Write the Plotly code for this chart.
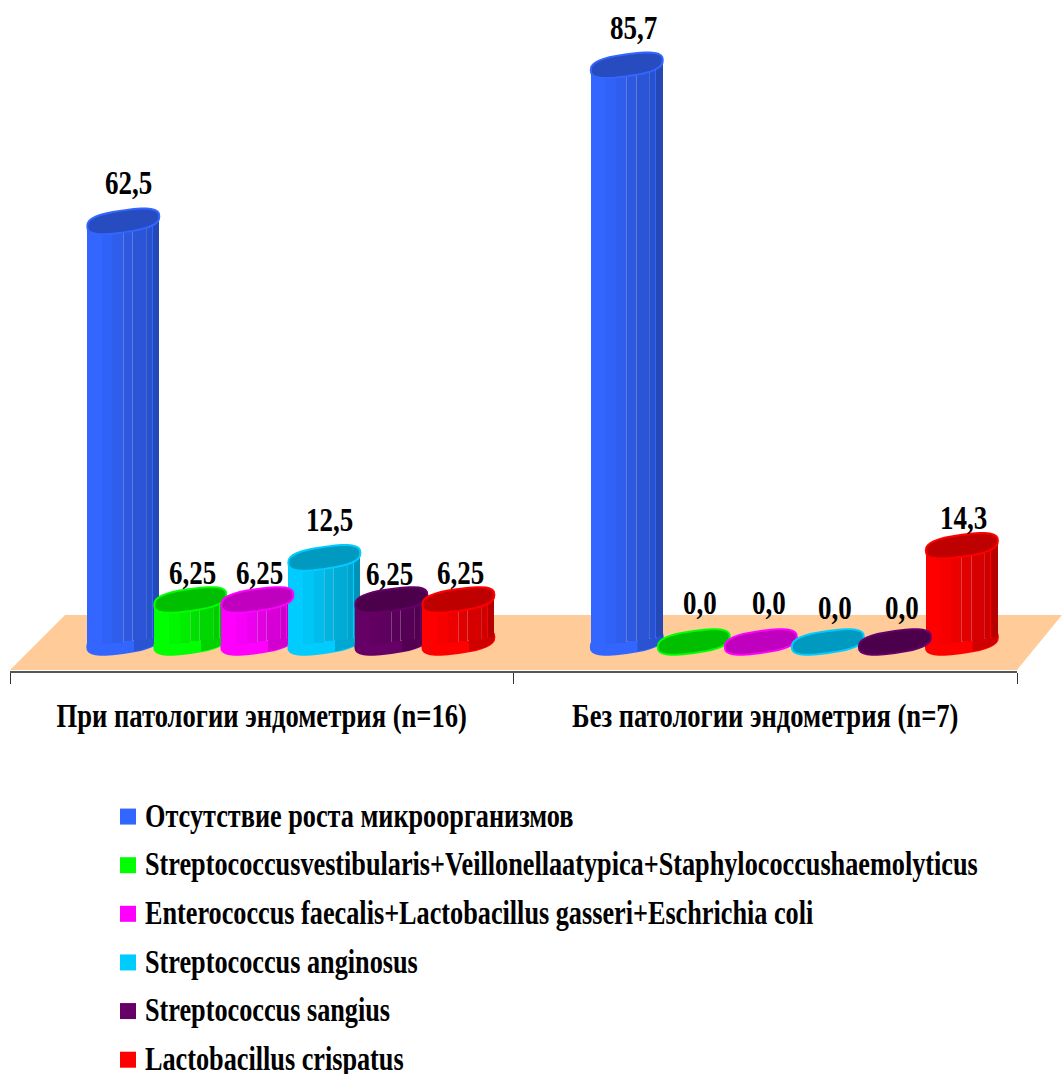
import math
import plotly.graph_objects as go

categories = ["При патологии эндометрия (n=16)", "Без патологии эндометрия (n=7)"]
series_names = [
    "Отсутствие роста микроорганизмов",
    "Streptococcusvestibularis+Veillonellaatypica+Staphylococcushaemolyticus",
    "Enterococcus faecalis+Lactobacillus gasseri+Eschrichia coli",
    "Streptococcus anginosus",
    "Streptococcus sangius",
    "Lactobacillus crispatus",
]
colors = ["#3366FF", "#00FF00", "#FF00FF", "#00CCFF", "#660066", "#FF0000"]
pathology = [62.5, 6.25, 6.25, 12.5, 6.25, 6.25]
no_pathology = [85.7, 0.0, 0.0, 0.0, 0.0, 14.3]
pathology_labels = ["62,5", "6,25", "6,25", "12,5", "6,25", "6,25"]
no_pathology_labels = ["85,7", "0,0", "0,0", "0,0", "0,0", "14,3"]

# label placement relative to the top of each column (layout only, in pixels)
label_dx = [[5, 2, 2, 5, -2, 2], [7, 6, 8, 7, 7, 2]]
label_dy = [[36, 25, 25, 36, 24, 25], [35, 37, 37, 32, 32, 26]]

W, H = 1062, 1074
ML, MR, MB = 10, 45, 403
PX_X = (W - ML - MR) / 2.0
PX_Y = 6.73
Y_BOTTOM = -29 / PX_Y
Y_TOP = 642 / PX_Y
PLOT_H = H - MB

FIRST = -0.275
STEP = 0.1331
HALF_W = 36 / PX_X
RY = 11 / PX_Y
TILT = 5 / PX_Y

# facets of a column: (left edge, right edge, brightness); the thin light
# facets stand in for the pale vertical ridges of the 3-D cylinder
FACETS = [(0, .07, 1), (.07, .2, 1), (.2, .35, .97), (.35, .5, .93),
          (.5, .508, 1.1), (.508, .63, .88), (.63, .638, 1.1), (.638, .82, .84),
          (.82, .828, 1.05), (.828, .9, .8), (.9, .908, 1.0), (.908, 1, .72)]


def shade(c, f):
    r, g, b = int(c[1:3], 16), int(c[3:5], 16), int(c[5:7], 16)
    if f > 1:  # blend towards white for the ridges
        k = (f - 1) * 3
        r, g, b = r + (255 - r) * k, g + (255 - g) * k, b + (255 - b) * k
        return f"rgb({int(r*.85)},{int(g*.85)},{int(b*.85)})"
    return f"rgb({int(r*f)},{int(g*f)},{int(b*f)})"


def outline(cx, cy, start=0.0, stop=2 * math.pi, n=32):
    pts = []
    for k in range(n + 1):
        t = start + (stop - start) * k / n
        c, s = math.cos(t), math.sin(t)
        c2 = math.copysign(abs(c) ** 0.75, c)
        s2 = math.copysign(abs(s) ** 0.75, s)
        pts.append((cx + HALF_W * c2, cy + RY * s2 + TILT * c2))
    return "M" + " L".join(f"{a:.5f},{b:.4f}" for a, b in pts) + " Z"


def ellipse(cx, cy, fill, line, layer):
    return dict(type="path", path=outline(cx, cy), xref="x", yref="y", fillcolor=fill,
                line=dict(color=line, width=2), layer=layer)


def right_half(cx, cy, fill):
    return dict(type="path", path=outline(cx, cy, -math.pi / 2 + 0.2, math.pi / 2 - 0.2, 16),
                xref="x", yref="y", fillcolor=fill, line=dict(width=0), layer="between")


fig = go.Figure()
shapes = [dict(type="path", xref="paper", yref="paper", layer="below",
               path=f"M0,{(PLOT_H-670)/PLOT_H} L{55/1007},{(PLOT_H-615)/PLOT_H} "
                    f"L{1052/1007},{(PLOT_H-615)/PLOT_H} L1,{(PLOT_H-670)/PLOT_H} Z",
               fillcolor="#FFCC99", line=dict(width=0))]
annotations = []

for i, (name, col) in enumerate(zip(series_names, colors)):
    vals = [pathology[i], no_pathology[i]]
    offs = FIRST + i * STEP
    for j, (a, b, f) in enumerate(FACETS):
        mid = (a + b) / 2
        base = (2 * mid - 1) * TILT
        fig.add_trace(go.Bar(
            x=[0, 1], y=vals, base=[base, base],
            offset=offs - HALF_W + a * 2 * HALF_W, width=(b - a) * 2 * HALF_W,
            name=name, legendgroup=f"s{i}", showlegend=(j == 0),
            marker=dict(color=shade(col, f), line=dict(width=0)),
            hoverinfo="skip",
        ))
    for k, v in enumerate(vals):
        if v > 0:
            shapes.append(ellipse(k + offs, 0, shade(col, 1), col, "between"))
            shapes.append(right_half(k + offs, 0, shade(col, .82)))
        shapes.append(ellipse(k + offs, v, shade(col, .75), col, "above"))
        label = (pathology_labels if k == 0 else no_pathology_labels)[i]
        annotations.append(dict(x=k + offs, y=v, xref="x", yref="y", text=label,
                                showarrow=False, yshift=label_dy[k][i], xshift=label_dx[k][i],
                                font=dict(family="Liberation Serif", size=27,
                                          color="black", weight=700)))

fig.update_layout(
    width=W, height=H, barmode="overlay", bargap=0,
    margin=dict(l=ML, r=MR, t=0, b=MB, autoexpand=False),
    paper_bgcolor="white", plot_bgcolor="rgba(0,0,0,0)",
    shapes=shapes, annotations=annotations,
    xaxis=dict(range=[-0.5, 1.5], tickmode="array", tickvals=[0, 1], ticktext=categories,
               ticks="", showgrid=False, zeroline=False, showline=True,
               linecolor="#555555", linewidth=1.5, ticklabelstandoff=22,
               tickfont=dict(family="Liberation Serif", size=26.6, color="black", weight=700),
               minor=dict(tickmode="array", tickvals=[-0.5, 0.5, 1.5], ticks="outside",
                          ticklen=11, tickcolor="#333333", tickwidth=1, showgrid=False)),
    yaxis=dict(range=[Y_BOTTOM, Y_TOP], visible=False, showgrid=False, zeroline=False),
    showlegend=True,
    legend=dict(x=98 / 1007, xanchor="left", y=(PLOT_H - 793) / PLOT_H, yanchor="top",
                traceorder="grouped", tracegroupgap=11.5, bgcolor="rgba(0,0,0,0)",
                font=dict(family="Liberation Serif", size=26.25, color="black", weight=700)),
)

# Remove the page margin, enlarge the legend swatches and give the bold labels
# the tall, narrow look of the original lettering.
post = """
document.body.style.margin = '0';
var gd = document.getElementById('{plot_id}');
gd.querySelectorAll('.legend path').forEach(function (p) {
  if ((p.getAttribute('d') || '').indexOf('M6,6') === 0) p.setAttribute('d', 'M8,8H-8V-8H8Z');
});
gd.querySelectorAll('.legendtext').forEach(function (t) {
  t.setAttribute('x', (+t.getAttribute('x') || 0) - 3);
});
gd.querySelectorAll('.legendtext, .xtick text, .annotation-text').forEach(function (t) {
  var x = +t.getAttribute('x') || 0, y = +t.getAttribute('y') || 0;
  var tr = t.getAttribute('transform') || '';
  t.setAttribute('transform', tr + ' translate(' + x + ',' + y + ') scale(1,1.28) translate(' + (-x) + ',' + (-y) + ')');
});
"""
fig.write_html("out.html", post_script=post, config={"displayModeBar": False})
